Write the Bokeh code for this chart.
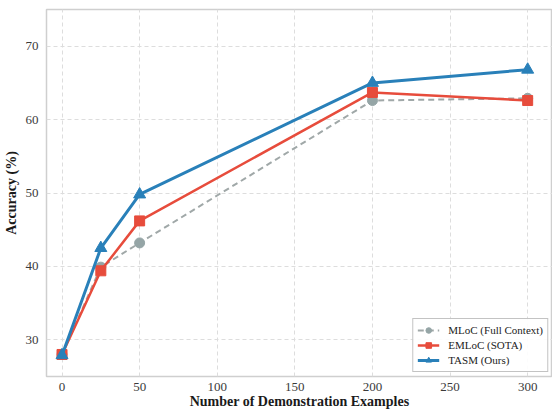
from bokeh.plotting import figure
from bokeh.embed import file_html
from bokeh.resources import INLINE
from bokeh.models import FixedTicker, Range1d

x_vals = [0, 25, 50, 200, 300]
mloc = [28.0, 39.9, 43.2, 62.6, 62.9]
emloc = [28.0, 39.4, 46.2, 63.7, 62.6]
tasm = [27.9, 42.5, 49.8, 65.0, 66.8]
x_ticks = [0, 50, 100, 150, 200, 250, 300]
y_ticks = [30, 40, 50, 60, 70]

FONT = "'Liberation Serif', serif"

p = figure(width=552, height=411, output_backend="svg", toolbar_location=None,
           x_range=Range1d(-10, 316), y_range=Range1d(25, 75),
           min_border_left=40, min_border_right=0, min_border_top=9, min_border_bottom=30)
p.background_fill_color = "white"
p.border_fill_color = "white"
p.outline_line_color = "#cfcfcf"
p.outline_line_width = 1.5

for ax in (p.xaxis[0], p.yaxis[0]):
    ax.axis_line_color = None
    ax.major_tick_line_color = None
    ax.minor_tick_line_color = None
    ax.major_tick_out = 0
    ax.major_tick_in = 0
    ax.major_label_text_font = FONT
    ax.major_label_text_font_size = "13px"
    ax.major_label_text_color = "#3a3a3a"
    ax.axis_label_text_font = FONT
    ax.axis_label_text_font_style = "bold"
    ax.axis_label_text_font_size = "14px"
    ax.axis_label_text_color = "#1a1a1a"

p.xaxis.ticker = FixedTicker(ticks=x_ticks)
p.yaxis.ticker = FixedTicker(ticks=y_ticks)
p.xaxis.axis_label = "Number of Demonstration Examples"
p.yaxis.axis_label = "Accuracy (%)"
p.xaxis.major_label_standoff = 6
p.xaxis.axis_label_standoff = 0
p.yaxis.major_label_standoff = 8
p.yaxis.axis_label_standoff = 4

p.grid.grid_line_color = "#dddddd"
p.grid.grid_line_dash = "4 3"
p.grid.grid_line_width = 1

p.line(x_vals, mloc, color="#a0a8a8", line_width=2, line_dash="6 4", legend_label="MLoC (Full Context)")
p.scatter(x_vals, mloc, marker="circle", size=10, color="#95a5a6", legend_label="MLoC (Full Context)")
p.line(x_vals, emloc, color="#e74c3c", line_width=2.5, legend_label="EMLoC (SOTA)")
p.scatter(x_vals, emloc, marker="square", size=10, color="#e74c3c", legend_label="EMLoC (SOTA)")
p.line(x_vals, tasm, color="#2980b9", line_width=3, legend_label="TASM (Ours)")
p.scatter(x_vals, tasm, marker="triangle", size=12, color="#2980b9", legend_label="TASM (Ours)")

lg = p.legend[0]
lg.location = "bottom_right"
lg.label_text_font = FONT
lg.label_text_font_size = "11px"
lg.label_text_color = "#222222"
lg.border_line_color = "#888888"
lg.border_line_width = 1
lg.background_fill_alpha = 0.9
lg.margin = 4
lg.padding = 4
lg.spacing = 1
lg.glyph_width = 22
lg.glyph_height = 14
lg.label_height = 14
lg.label_standoff = 9

open("out.html", "w").write(file_html(p, INLINE))
